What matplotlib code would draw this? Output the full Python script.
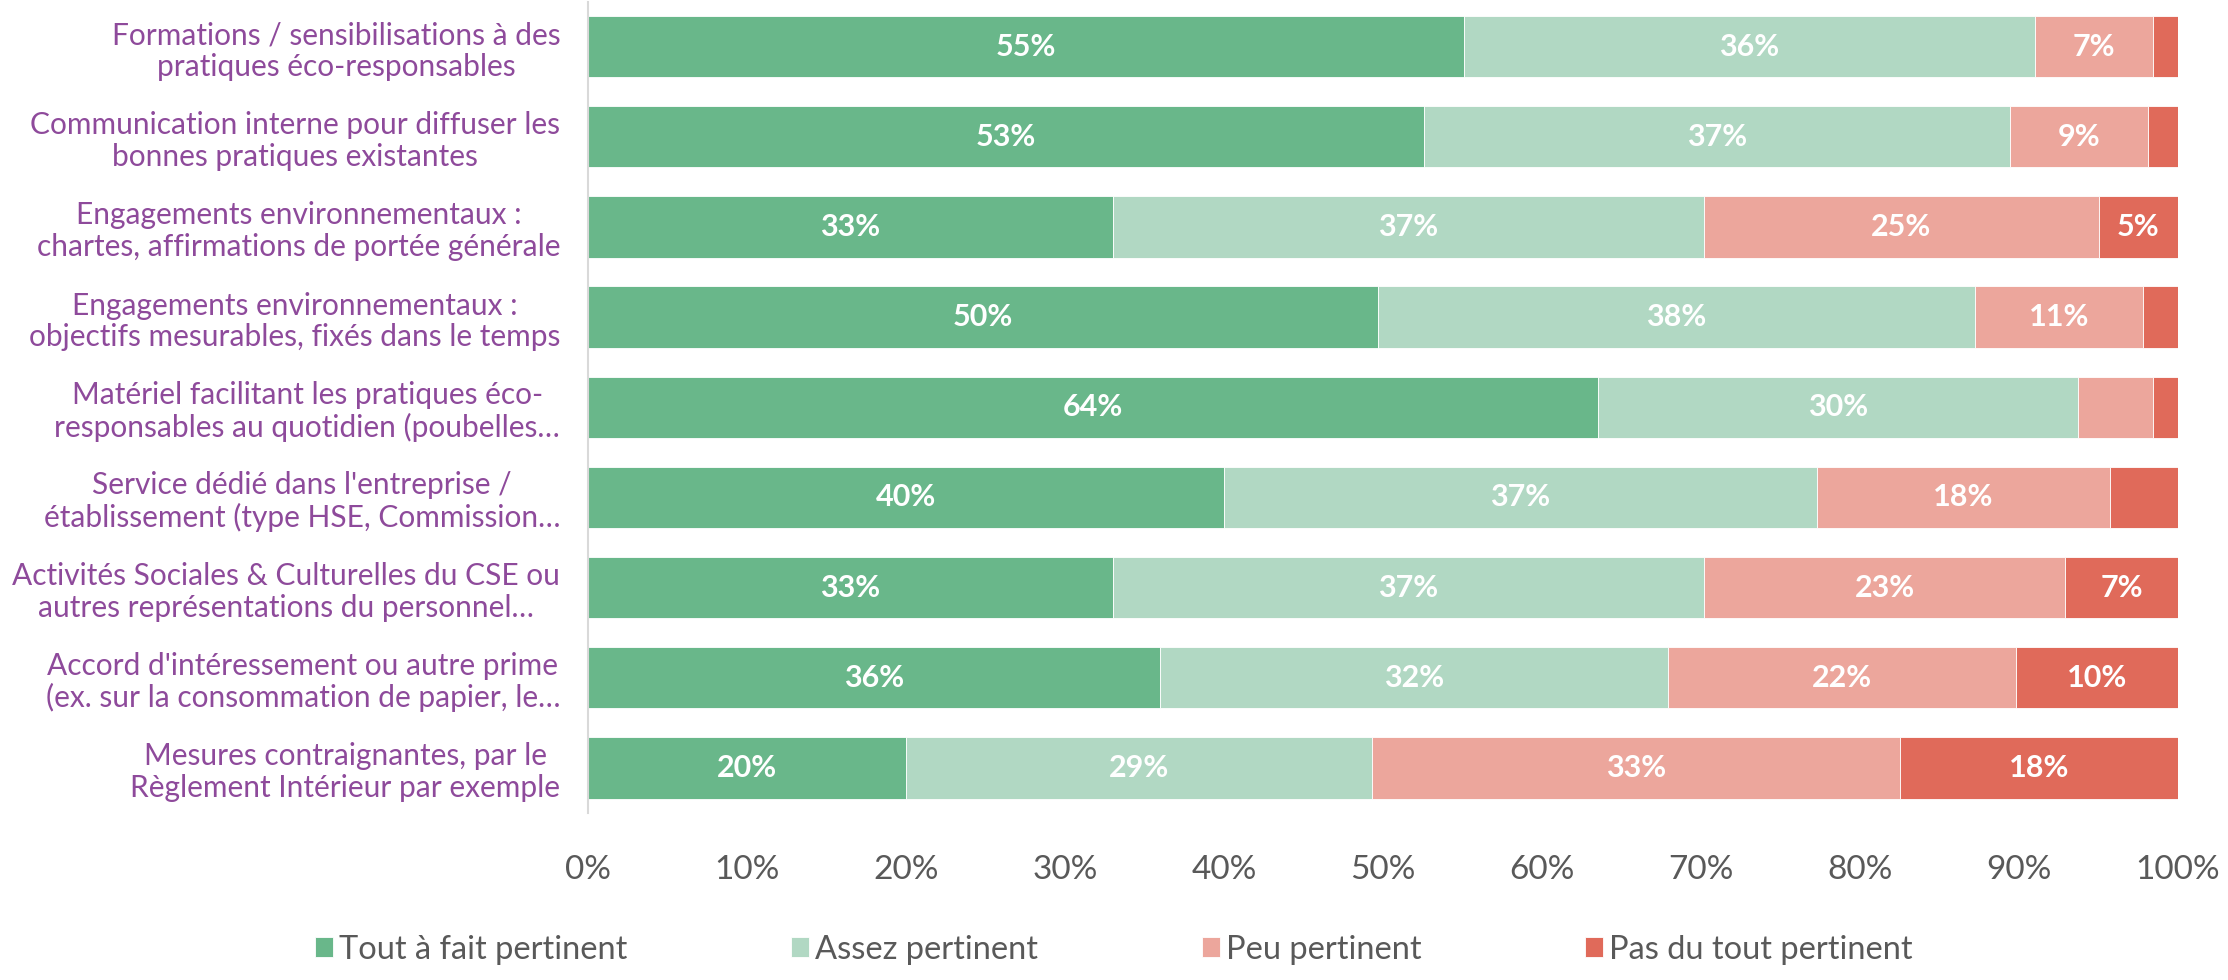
import numpy as np
import matplotlib
matplotlib.use('Agg')
import matplotlib.pyplot as plt

plt.rcParams['font.family'] = ['Lato', 'DejaVu Sans']

categories = [
    "Formations / sensibilisations à des\npratiques éco-responsables",
    "Communication interne pour diffuser les\nbonnes pratiques existantes",
    "Engagements environnementaux :\nchartes, affirmations de portée générale",
    "Engagements environnementaux :\nobjectifs mesurables, fixés dans le temps",
    "Matériel facilitant les pratiques éco-\nresponsables au quotidien (poubelles…",
    "Service dédié dans l'entreprise /\nétablissement (type HSE, Commission…",
    "Activités Sociales & Culturelles du CSE ou\nautres représentations du personnel…",
    "Accord d'intéressement ou autre prime\n(ex. sur la consommation de papier, le…",
    "Mesures contraignantes, par le\nRèglement Intérieur par exemple",
]

series = ["Tout à fait pertinent", "Assez pertinent", "Peu pertinent", "Pas du tout pertinent"]
tout_a_fait = [55.1, 52.6, 33.0, 49.7, 63.5, 40.0, 33.0, 36.0, 20.0]
assez = [35.9, 36.8, 37.2, 37.5, 30.2, 37.3, 37.2, 31.9, 29.3]
peu = [7.4, 8.7, 24.8, 10.6, 4.7, 18.4, 22.7, 21.9, 33.2]
pas_du_tout = [1.6, 1.9, 5.0, 2.2, 1.6, 4.3, 7.1, 10.2, 17.5]

colors = ['#69B78A', '#B1D8C3', '#ECA69C', '#E06A5A']
values = [tout_a_fait, assez, peu, pas_du_tout]

fig = plt.figure(figsize=(22.28, 9.8), dpi=100)
ax = fig.add_axes([0.2639, 0.1704, 0.7137, 0.828])

y = np.arange(len(categories))
left = np.zeros(len(categories))
for name, vals, col in zip(series, values, colors):
    vals = np.array(vals)
    ax.barh(y, vals, left=left, height=0.68, color=col, label=name,
            edgecolor='white', linewidth=0.6)
    for yi, l, v in zip(y, left, vals):
        if v >= 4.95:
            ax.text(l + v / 2, yi, f"{int(v + 0.5)}%", ha='center', va='center',
                    color='white', fontsize=22, fontweight='bold')
    left += vals

ax.set_xlim(0, 100)
ax.set_ylim(len(categories) - 0.5, -0.5)
ax.set_yticks(y)
ax.set_yticklabels(categories, fontsize=21.5, color='#8E4A9B', multialignment='center',
                   linespacing=1.15)
ax.set_xticks(np.arange(0, 101, 10))
ax.set_xticklabels([f"{t}%" for t in range(0, 101, 10)], fontsize=24, color='#595959')
ax.tick_params(axis='y', length=0, pad=20)
ax.tick_params(axis='x', length=0, pad=30)
for s in ['top', 'right', 'bottom']:
    ax.spines[s].set_visible(False)
ax.spines['left'].set_color('#D9D9D9')
ax.spines['left'].set_linewidth(1.5)

fig.legend(loc='center', bbox_to_anchor=(0.5, 0.031), ncol=4, frameon=False,
           fontsize=23.5, labelcolor='#595959', handlelength=0.55, handleheight=0.55,
           handletextpad=0.2, columnspacing=5.0)

fig.savefig('out.png', dpi=100)
